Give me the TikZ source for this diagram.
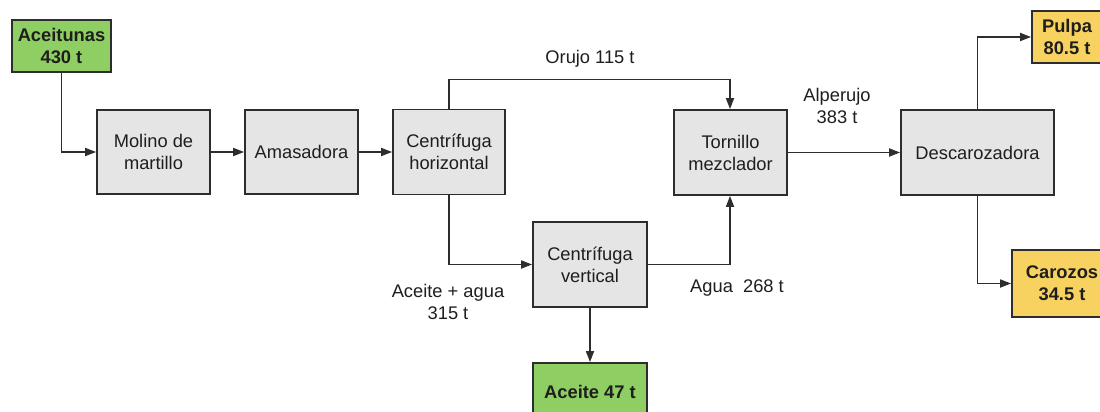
\documentclass[tikz,border=0pt]{standalone}
\usepackage{fontspec}
\setmainfont{Liberation Sans}
\usetikzlibrary{arrows.meta}
\definecolor{procfill}{RGB}{229,229,229}
\definecolor{inputgreen}{RGB}{143,206,98}
\definecolor{outyellow}{RGB}{247,210,96}
\definecolor{edgegray}{RGB}{45,45,45}
\definecolor{txt}{RGB}{30,30,30}
\begin{document}
\begin{tikzpicture}[x=1pt,y=-1pt,
  every node/.style={font=\fontsize{18.3}{22}\selectfont, text=txt, align=center},
  proc/.style={draw=edgegray, line width=1.8pt, fill=procfill, inner sep=0pt},
  inbox/.style={draw=edgegray, line width=1.8pt, fill=inputgreen, inner sep=0pt, font=\fontsize{18.3}{22}\selectfont\bfseries},
  outbox/.style={draw=edgegray, line width=1.8pt, fill=outyellow, inner sep=0pt, font=\fontsize{18.3}{22}\selectfont\bfseries},
  flow/.style={draw=edgegray, line width=1.7pt, -{Triangle[length=11pt,width=8pt]}},
  lbl/.style={inner sep=0pt}]
\useasboundingbox (0,0) rectangle (1100,412);
\clip (0,0) rectangle (1100,412);
\fill[white] (0,0) rectangle (1100,412);

% process boxes
\node[proc, minimum width=113pt, minimum height=84pt] (molino) at (153.5,152) {Molino de\\martillo};
\node[proc, minimum width=113pt, minimum height=84pt] (amas) at (301.5,152) {Amasadora};
\node[proc, minimum width=112pt, minimum height=85pt] (chor) at (449,152) {Centrífuga\\horizontal};
\node[proc, minimum width=113pt, minimum height=85pt] (torn) at (730.5,152.5) {Tornillo\\mezclador};
\node[proc, minimum width=114pt, minimum height=85pt] (cver) at (590,264.5) {Centrífuga\\vertical};
\node[proc, minimum width=153pt, minimum height=85pt] (desc) at (977.5,152.5) {Descarozadora};

% input and product boxes
\node[inbox, minimum width=99pt, minimum height=52pt] (aceitunas) at (61.5,46) {Aceitunas\\430 t};
\node[inbox, minimum width=114pt, minimum height=58pt] (aceite) at (590,392) {Aceite 47 t};
\node[outbox, minimum width=70pt, minimum height=52pt] (pulpa) at (1067,37) {Pulpa\\80.5 t};
\node[outbox, minimum width=100pt, minimum height=67pt] (carozos) at (1062,283.5) {Carozos\\34.5 t};

% stream labels
\node[lbl] (lorujo) at (590,59) {Orujo 115 t};
\node[lbl] (lacag) at (448,302) {Aceite + agua\\315 t};
\node[lbl] (lagua) at (737,288) {Agua\ \ 268 t};
\node[lbl] (lalp) at (837,106) {Alperujo\\383 t};

% streams
\draw[flow] (aceitunas.south) |- (molino.west);
\draw[flow] (molino.east) -- (amas.west);
\draw[flow] (amas.east) -- (chor.west);
\draw[flow] (chor.north) -- ++(0,-29) -| ([xshift=-0.5pt]torn.north);
\draw[flow] (chor.south) |- (cver.west);
\draw[flow] (cver.east) -| ([xshift=-0.5pt]torn.south);
\draw[flow] (torn.east) -- (desc.west);
\draw[flow] (cver.south) -- (aceite.north);
\draw[flow] (desc.north) |- (pulpa.west);
\draw[flow] (desc.south) |- (carozos.west);
\end{tikzpicture}
\end{document}
